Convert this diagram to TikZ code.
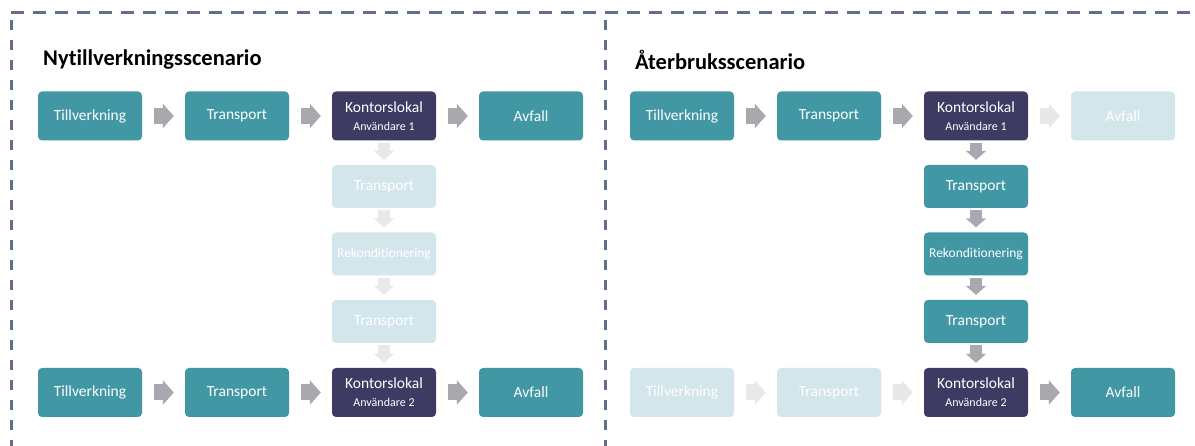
\documentclass[tikz,border=0pt]{standalone}
\usepackage{fontspec}
\setmainfont[Ligatures=NoCommon]{Carlito}
\usetikzlibrary{arrows.meta}
\definecolor{teal1}{RGB}{65,151,164}
\definecolor{navy1}{RGB}{62,59,99}
\definecolor{fade1}{RGB}{211,230,235}
\definecolor{agray}{RGB}{169,168,174}
\definecolor{afade}{RGB}{232,232,234}
\definecolor{frame1}{RGB}{96,112,136}
\tikzset{
  box/.style={rectangle, rounded corners=4pt, minimum width=104pt, text=white, font=\fontsize{15.5}{17}\selectfont, inner sep=0pt, align=center},
  rowbox/.style={box, minimum height=49pt},
  colbox/.style={box, minimum height=43pt},
  smalltext/.style={font=\fontsize{13.5}{15}\selectfont},
  tealbox/.style={fill=teal1},
  navybox/.style={fill=navy1},
  fadebox/.style={fill=fade1},
  harrow/.style={line width=16pt, -{Triangle[length=11pt,width=24pt]}, shorten <=12pt, shorten >=11pt},
  varrow/.style={line width=12pt, -{Triangle[length=9pt,width=20pt]}, shorten <=2pt, shorten >=5pt},
  ag/.style={draw=agray, color=agray},
  af/.style={draw=afade, color=afade},
  frameline/.style={draw=frame1, line width=3pt, dash pattern=on 13pt off 9pt},
  title/.style={anchor=west, font=\fontsize{22.5}{24}\selectfont\bfseries, inner sep=0pt},
}
\newcommand{\kontor}[1]{Kontorslokal\\[1pt]{\fontsize{12}{13}\selectfont Användare #1}}
\begin{document}
\begin{tikzpicture}[x=1pt,y=-1pt]
\useasboundingbox (0,0) rectangle (1195,446);
\fill[white] (0,0) rectangle (1195,446);
% frame
\coordinate (ftl) at (11,13);
\coordinate (ftr) at (1200,13);
\coordinate (fbl) at (11,450);
\coordinate (fmt) at (605,13);
\coordinate (fmb) at (605,450);
\draw[frameline] (ftl) -- (ftr);
\draw[frameline, dash pattern=on 10pt off 10pt] ([yshift=-7pt]ftl) -- (fbl);
\draw[frameline, dash pattern=on 10pt off 10pt] ([yshift=-7pt]fmt) -- (fmb);

% titles
\node[title] (t1) at (43,60) {Nytillverkningsscenario};
\node[title] (t2) at (635,60) {Återbruksscenario};

% ---------- left scenario ----------
\node[rowbox, tealbox] (L1) at (90,116) {Tillverkning};
\node[rowbox, tealbox] (L2) at (237,116) {Transport};
\node[rowbox, navybox] (L3) at (384,116) {\kontor{1}};
\node[rowbox, tealbox] (L4) at (531,116) {Avfall};
\node[colbox, fadebox] (L5) at (384,186.5) {Transport};
\node[colbox, fadebox, smalltext] (L6) at (384,254) {Rekonditionering};
\node[colbox, fadebox] (L7) at (384,321.5) {Transport};
\node[rowbox, tealbox] (L8) at (90,392.5) {Tillverkning};
\node[rowbox, tealbox] (L9) at (237,392.5) {Transport};
\node[rowbox, navybox] (L10) at (384,392.5) {\kontor{2}};
\node[rowbox, tealbox] (L11) at (531,392.5) {Avfall};

\draw[harrow, ag] (L1.east) -- (L2.west);
\draw[harrow, ag] (L2.east) -- (L3.west);
\draw[harrow, ag] (L3.east) -- (L4.west);
\draw[varrow, af] (L3.south) -- (L5.north);
\draw[varrow, af] (L5.south) -- (L6.north);
\draw[varrow, af] (L6.south) -- (L7.north);
\draw[varrow, af] (L7.south) -- (L10.north);
\draw[harrow, ag] (L8.east) -- (L9.west);
\draw[harrow, ag] (L9.east) -- (L10.west);
\draw[harrow, ag] (L10.east) -- (L11.west);

% ---------- right scenario ----------
\node[rowbox, tealbox] (R1) at (682,116) {Tillverkning};
\node[rowbox, tealbox] (R2) at (829,116) {Transport};
\node[rowbox, navybox] (R3) at (976,116) {\kontor{1}};
\node[rowbox, fadebox] (R4) at (1123,116) {Avfall};
\node[colbox, tealbox] (R5) at (976,186.5) {Transport};
\node[colbox, tealbox, smalltext] (R6) at (976,254) {Rekonditionering};
\node[colbox, tealbox] (R7) at (976,321.5) {Transport};
\node[rowbox, fadebox] (R8) at (682,392.5) {Tillverkning};
\node[rowbox, fadebox] (R9) at (829,392.5) {Transport};
\node[rowbox, navybox] (R10) at (976,392.5) {\kontor{2}};
\node[rowbox, tealbox] (R11) at (1123,392.5) {Avfall};

\draw[harrow, ag] (R1.east) -- (R2.west);
\draw[harrow, ag] (R2.east) -- (R3.west);
\draw[harrow, af] (R3.east) -- (R4.west);
\draw[varrow, ag] (R3.south) -- (R5.north);
\draw[varrow, ag] (R5.south) -- (R6.north);
\draw[varrow, ag] (R6.south) -- (R7.north);
\draw[varrow, ag] (R7.south) -- (R10.north);
\draw[harrow, af] (R8.east) -- (R9.west);
\draw[harrow, af] (R9.east) -- (R10.west);
\draw[harrow, ag] (R10.east) -- (R11.west);
\end{tikzpicture}
\end{document}
